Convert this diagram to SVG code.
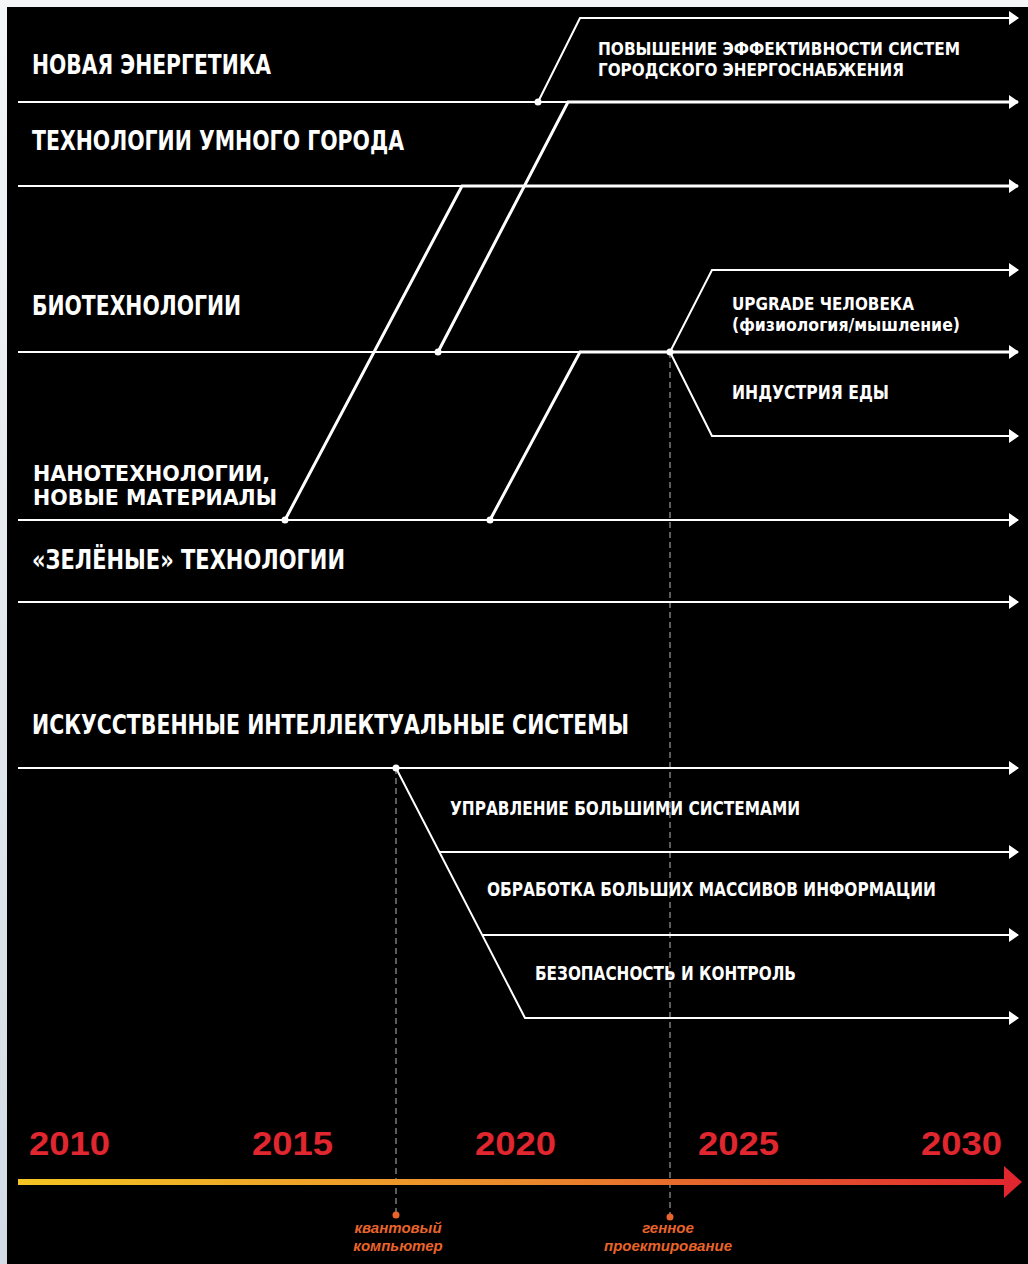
<svg xmlns="http://www.w3.org/2000/svg" width="1028" height="1264" viewBox="0 0 1028 1264">
  <defs>
    <linearGradient id="edge" x1="0" y1="0" x2="0" y2="1">
      <stop offset="0" stop-color="#f4f6f8"/>
      <stop offset="1" stop-color="#d3dbe5"/>
    </linearGradient>
    <linearGradient id="timegrad" x1="18" y1="0" x2="1022" y2="0" gradientUnits="userSpaceOnUse">
      <stop offset="0" stop-color="#f5c523"/>
      <stop offset="0.5" stop-color="#ea8a2c"/>
      <stop offset="1" stop-color="#e0262e"/>
    </linearGradient>
    <marker id="arr" viewBox="0 0 10 14" refX="9" refY="7" markerWidth="10" markerHeight="14" markerUnits="userSpaceOnUse" orient="auto">
      <path d="M0,0 L10,7 L0,14 z" fill="#ffffff"/>
    </marker>
  </defs>
  <style>
    .main { font-family: "Liberation Sans Narrow", "DejaVu Sans Condensed", "Roboto Condensed", "Liberation Sans", sans-serif; font-weight: bold; font-size: 26px; fill: #ffffff; }
    .sub { font-family: "Liberation Sans Narrow", "DejaVu Sans Condensed", "Roboto Condensed", "Liberation Sans", sans-serif; font-weight: bold; font-size: 20px; fill: #ffffff; }
    .sub2 { font-size: 18px; }
    .main2 { font-size: 22px; }
    .year { font-family: "Liberation Sans", "DejaVu Sans", sans-serif; font-weight: bold; font-size: 33px; fill: #e0262e; }
    .ev { font-family: "Liberation Sans", "DejaVu Sans", sans-serif; font-weight: bold; font-style: italic; font-size: 15px; fill: #e8642a; text-anchor: middle; }
    .thin { fill: none; stroke: #ffffff; stroke-width: 2; }
    .thick { fill: none; stroke: #ffffff; stroke-width: 3; }
    .dash { fill: none; stroke: #9a9a9a; stroke-width: 1.2; stroke-dasharray: 6 4; }
    .dot { fill: #ffffff; }
    .edot { fill: #e8642a; }
  </style>

  <rect x="0" y="0" width="1028" height="1264" fill="url(#edge)"/>
  <rect x="7" y="7" width="1021" height="1257" fill="#000000"/>

  <g id="connectors">
    <path class="dash" d="M396,768 L396,1215"/>
    <path class="dash" d="M670,352 L670,1217"/>

    <path class="thin" d="M18,102 L568,102"/>
    <path class="thin" d="M18,186 L462,186"/>
    <path class="thin" d="M18,352 L580,352"/>
    <path class="thin" d="M18,520 L1018,520" marker-end="url(#arr)"/>
    <path class="thin" d="M18,602 L1018,602" marker-end="url(#arr)"/>
    <path class="thin" d="M18,768 L1018,768" marker-end="url(#arr)"/>

    <path class="thin" d="M538,102 L580,18 L1018,18" marker-end="url(#arr)"/>

    <path class="thick" d="M438,352 L568,102 L1018,102" marker-end="url(#arr)"/>
    <path class="thick" d="M285,520 L462,186 L1018,186" marker-end="url(#arr)"/>
    <path class="thick" d="M490,520 L580,352 L1018,352" marker-end="url(#arr)"/>

    <path class="thin" d="M670,352 L712,270 L1018,270" marker-end="url(#arr)"/>
    <path class="thin" d="M670,352 L712,436 L1018,436" marker-end="url(#arr)"/>

    <path class="thin" d="M396,768 L525,1018 L1018,1018" marker-end="url(#arr)"/>
    <path class="thin" d="M439,852 L1018,852" marker-end="url(#arr)"/>
    <path class="thin" d="M482,935 L1018,935" marker-end="url(#arr)"/>

    <circle class="dot" cx="538" cy="102" r="3.5"/>
    <circle class="dot" cx="438" cy="352" r="3.5"/>
    <circle class="dot" cx="670" cy="352" r="3.5"/>
    <circle class="dot" cx="285" cy="520" r="3.5"/>
    <circle class="dot" cx="490" cy="520" r="3.5"/>
    <circle class="dot" cx="396" cy="768" r="3.5"/>
  </g>

  <g id="node-energy"><text class="main" x="32" y="74" textLength="239" lengthAdjust="spacingAndGlyphs">НОВАЯ ЭНЕРГЕТИКА</text></g>
  <g id="node-smartcity"><text class="main" x="32" y="150" textLength="372" lengthAdjust="spacingAndGlyphs">ТЕХНОЛОГИИ УМНОГО ГОРОДА</text></g>
  <g id="node-bio"><text class="main" x="32" y="315" textLength="209" lengthAdjust="spacingAndGlyphs">БИОТЕХНОЛОГИИ</text></g>
  <g id="node-nano">
    <text class="main main2" x="33" y="481" textLength="237" lengthAdjust="spacingAndGlyphs">НАНОТЕХНОЛОГИИ,</text>
    <text class="main main2" x="33" y="505" textLength="244" lengthAdjust="spacingAndGlyphs">НОВЫЕ МАТЕРИАЛЫ</text>
  </g>
  <g id="node-green"><text class="main" x="32" y="569" textLength="313" lengthAdjust="spacingAndGlyphs">«ЗЕЛЁНЫЕ» ТЕХНОЛОГИИ</text></g>
  <g id="node-ai"><text class="main" x="32" y="734" textLength="597" lengthAdjust="spacingAndGlyphs">ИСКУССТВЕННЫЕ ИНТЕЛЛЕКТУАЛЬНЫЕ СИСТЕМЫ</text></g>

  <g id="node-efficiency">
    <text class="sub sub2" x="598" y="55" textLength="362" lengthAdjust="spacingAndGlyphs">ПОВЫШЕНИЕ ЭФФЕКТИВНОСТИ СИСТЕМ</text>
    <text class="sub sub2" x="598" y="76" textLength="306" lengthAdjust="spacingAndGlyphs">ГОРОДСКОГО ЭНЕРГОСНАБЖЕНИЯ</text>
  </g>
  <g id="node-upgrade">
    <text class="sub sub2" x="732" y="310" textLength="182" lengthAdjust="spacingAndGlyphs">UPGRADE ЧЕЛОВЕКА</text>
    <text class="sub sub2" x="732" y="331" textLength="228" lengthAdjust="spacingAndGlyphs">(физиология/мышление)</text>
  </g>
  <g id="node-food"><text class="sub" x="732" y="399" textLength="157" lengthAdjust="spacingAndGlyphs">ИНДУСТРИЯ ЕДЫ</text></g>
  <g id="node-control"><text class="sub" x="450" y="815" textLength="350" lengthAdjust="spacingAndGlyphs">УПРАВЛЕНИЕ БОЛЬШИМИ СИСТЕМАМИ</text></g>
  <g id="node-bigdata"><text class="sub" x="487" y="896" textLength="449" lengthAdjust="spacingAndGlyphs">ОБРАБОТКА БОЛЬШИХ МАССИВОВ ИНФОРМАЦИИ</text></g>
  <g id="node-security"><text class="sub" x="535" y="980" textLength="261" lengthAdjust="spacingAndGlyphs">БЕЗОПАСНОСТЬ И КОНТРОЛЬ</text></g>

  <g id="timeline">
    <rect x="18" y="1179" width="990" height="6" fill="url(#timegrad)"/>
    <path d="M1004,1166 L1022,1182 L1004,1198 z" fill="#e0262e"/>
    <text class="year" x="29" y="1155" textLength="81" lengthAdjust="spacingAndGlyphs">2010</text>
    <text class="year" x="252" y="1155" textLength="81" lengthAdjust="spacingAndGlyphs">2015</text>
    <text class="year" x="475" y="1155" textLength="81" lengthAdjust="spacingAndGlyphs">2020</text>
    <text class="year" x="698" y="1155" textLength="81" lengthAdjust="spacingAndGlyphs">2025</text>
    <text class="year" x="921" y="1155" textLength="81" lengthAdjust="spacingAndGlyphs">2030</text>
  </g>

  <g id="event-quantum">
    <circle class="edot" cx="396" cy="1215" r="3.5"/>
    <text class="ev" x="398" y="1233">квантовый</text>
    <text class="ev" x="398" y="1251">компьютер</text>
  </g>
  <g id="event-gene">
    <circle class="edot" cx="670" cy="1217" r="3.5"/>
    <text class="ev" x="668" y="1233">генное</text>
    <text class="ev" x="668" y="1251">проектирование</text>
  </g>
</svg>
